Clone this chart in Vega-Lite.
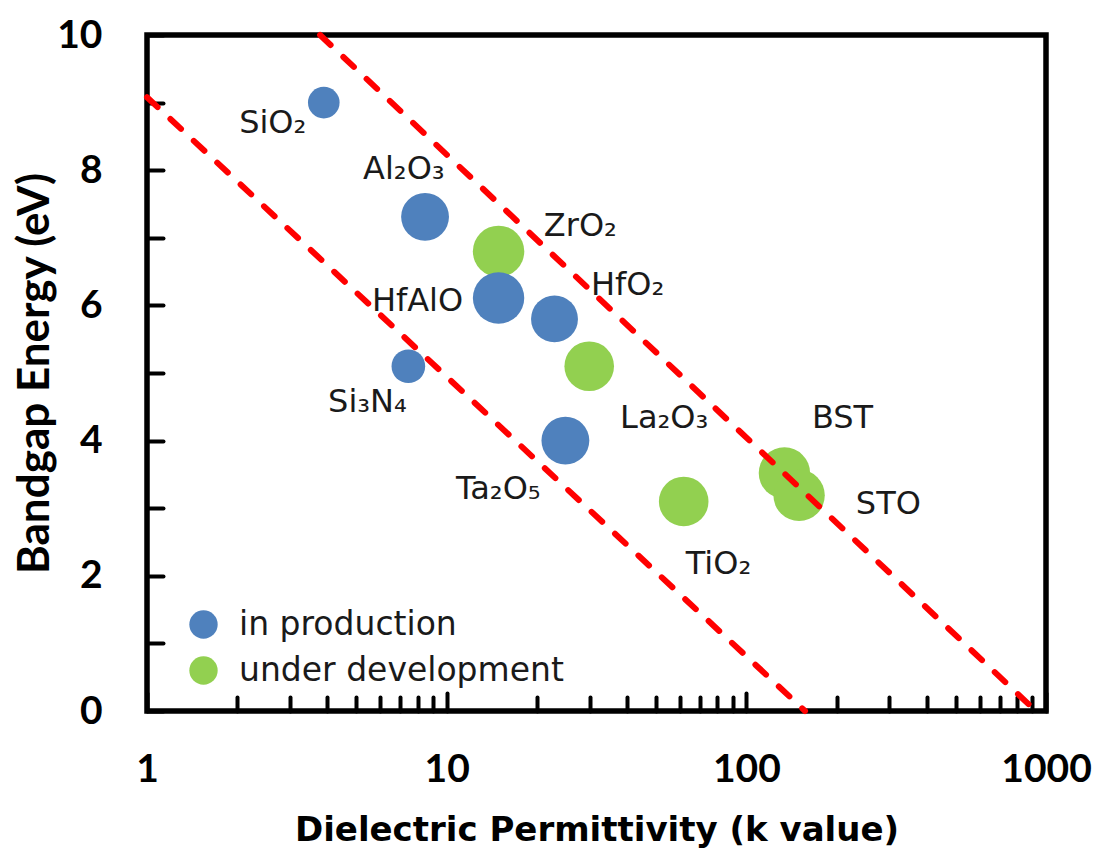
{
  "$schema": "https://vega.github.io/schema/vega-lite/v6.json",
  "width": 899,
  "height": 676,
  "autosize": {"type": "none"},
  "padding": {"left": 147, "top": 35, "right": 50, "bottom": 137},
  "background": "white",
  "config": {
    "view": {"stroke": "#000000", "strokeWidth": 5.5}
  },
  "datasets": {
    "materials": [
      {"name": "SiO2", "k": 3.89, "eg": 9.0, "status": "in production", "bubble": 1.0, "label": "SiO₂", "lx": 2.03, "ly": 8.55},
      {"name": "Al2O3", "k": 8.47, "eg": 7.31, "status": "in production", "bubble": 2.29, "label": "Al₂O₃", "lx": 5.26, "ly": 7.87},
      {"name": "ZrO2", "k": 14.9, "eg": 6.8, "status": "under development", "bubble": 2.64, "label": "ZrO₂", "lx": 21.1, "ly": 7.03},
      {"name": "HfAlO", "k": 14.9, "eg": 6.11, "status": "in production", "bubble": 2.64, "label": "HfAlO", "lx": 5.63, "ly": 5.92},
      {"name": "HfO2", "k": 22.9, "eg": 5.8, "status": "in production", "bubble": 2.2, "label": "HfO₂", "lx": 30.3, "ly": 6.16},
      {"name": "Si3N4", "k": 7.45, "eg": 5.1, "status": "in production", "bubble": 1.13, "label": "Si₃N₄", "lx": 4.02, "ly": 4.43},
      {"name": "La2O3", "k": 29.9, "eg": 5.1, "status": "under development", "bubble": 2.46, "label": "La₂O₃", "lx": 37.9, "ly": 4.19},
      {"name": "Ta2O5", "k": 24.9, "eg": 4.0, "status": "in production", "bubble": 2.29, "label": "Ta₂O₅", "lx": 10.74, "ly": 3.14},
      {"name": "TiO2", "k": 61.8, "eg": 3.1, "status": "under development", "bubble": 2.46, "label": "TiO₂", "lx": 62.8, "ly": 2.03},
      {"name": "BST", "k": 134, "eg": 3.52, "status": "under development", "bubble": 2.64, "label": "BST", "lx": 165.5, "ly": 4.18},
      {"name": "STO", "k": 150, "eg": 3.19, "status": "under development", "bubble": 2.64, "label": "STO", "lx": 232, "ly": 2.92}
    ],
    "guides": [
      {"line": "lower", "k": 1, "eg": 9.08},
      {"line": "lower", "k": 157, "eg": 0},
      {"line": "upper", "k": 3.78, "eg": 10},
      {"line": "upper", "k": 925, "eg": 0}
    ]
  },
  "layer": [
    {
      "data": {"name": "materials"},
      "mark": {"type": "circle", "opacity": 1},
      "encoding": {
        "x": {
          "field": "k", "type": "quantitative",
          "scale": {"type": "log", "domain": [1, 1000], "nice": false},
          "axis": {
            "title": "Dielectric Permittivity (k value)",
            "values": [1,2,3,4,5,6,7,8,9,10,20,30,40,50,60,70,80,90,100,200,300,400,500,600,700,800,900,1000],
            "labelExpr": "indexof([1,10,100,1000], datum.value) >= 0 ? format(datum.value, 'd') : ''",
            "labelFont": "Lato", "labelFontSize": 39, "labelFontWeight": "bold", "labelColor": "#000000",
            "labelPadding": 57, "labelOverlap": false, "labelFlush": false, "labelBound": false,
            "tickSize": {"condition": {"test": "indexof([1,10,100,1000], datum.value) >= 0", "value": -18}, "value": -14},
            "tickWidth": 4, "tickColor": "#000000", "tickCap": "round",
            "domain": false, "grid": false,
            "titleFont": "DejaVu Sans", "titleFontSize": 34, "titleFontWeight": "bold", "titleColor": "#000000",
            "titleBaseline": "alphabetic", "titleY": 129
          }
        },
        "y": {
          "field": "eg", "type": "quantitative",
          "scale": {"domain": [0, 10], "nice": false},
          "axis": {
            "title": "Bandgap Energy (eV)",
            "values": [0,1,2,3,4,5,6,7,8,9,10],
            "labelExpr": "datum.value % 2 == 0 ? format(datum.value, 'd') : ''",
            "labelFont": "Lato", "labelFontSize": 39, "labelFontWeight": "bold", "labelColor": "#000000",
            "labelPadding": 61, "labelOverlap": false, "labelFlush": false, "labelBound": false,
            "tickSize": -16, "tickWidth": 4, "tickColor": "#000000", "tickCap": "round",
            "domain": false, "grid": false,
            "titleFont": "Lato", "titleFontSize": 44, "titleFontWeight": "bold", "titleColor": "#000000",
            "titleBaseline": "alphabetic", "titleAngle": 270, "titleX": -99, "titleY": 338, "titleAlign": "center"
          }
        },
        "color": {
          "field": "status", "type": "nominal",
          "scale": {"domain": ["in production", "under development"], "range": ["#4F81BD", "#92D050"]},
          "legend": {
            "title": null, "orient": "none", "legendX": 40, "legendY": 573,
            "symbolType": "circle", "symbolSize": 804, "symbolOpacity": 1, "symbolStrokeWidth": 0,
            "labelFont": "DejaVu Sans", "labelFontSize": 33, "labelColor": "#1a1a1a",
            "labelOffset": 19, "rowPadding": 12, "padding": 0, "labelLimit": 600
          }
        },
        "size": {
          "field": "bubble", "type": "quantitative",
          "scale": {"domain": [0, 3], "range": [0, 3000]},
          "legend": null
        }
      }
    },
    {
      "data": {"name": "guides"},
      "mark": {"type": "line", "color": "#FF0000", "strokeWidth": 6, "strokeDash": [14.5, 17.5], "strokeCap": "round"},
      "encoding": {
        "x": {"field": "k", "type": "quantitative", "scale": {"type": "log", "domain": [1, 1000], "nice": false}},
        "y": {"field": "eg", "type": "quantitative", "scale": {"domain": [0, 10], "nice": false}},
        "detail": {"field": "line", "type": "nominal"}
      }
    },
    {
      "data": {"name": "materials"},
      "mark": {"type": "text", "align": "left", "baseline": "alphabetic", "font": "DejaVu Sans", "fontSize": 32, "color": "#1a1a1a"},
      "encoding": {
        "x": {"field": "lx", "type": "quantitative", "scale": {"type": "log", "domain": [1, 1000], "nice": false}},
        "y": {"field": "ly", "type": "quantitative", "scale": {"domain": [0, 10], "nice": false}},
        "text": {"field": "label", "type": "nominal"}
      }
    }
  ]
}
